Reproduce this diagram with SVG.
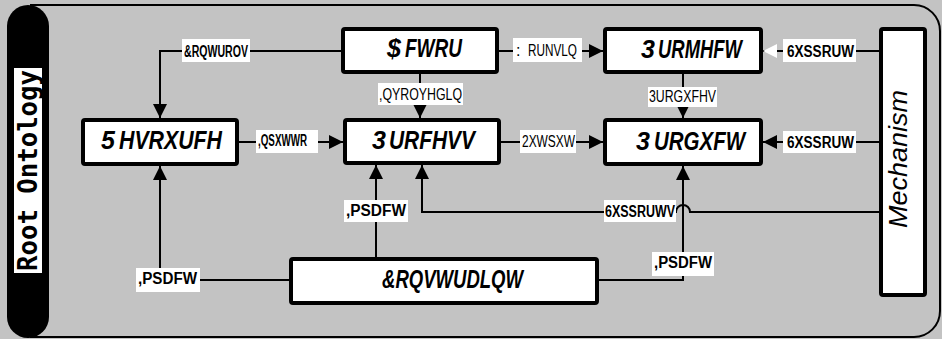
<svg xmlns="http://www.w3.org/2000/svg" width="942" height="339" viewBox="0 0 942 339">
<style>
.box{fill:#fff;stroke:#000;stroke-width:4}
.ln{fill:none;stroke:#000;stroke-width:2}
.lbg{fill:#fff}
.bt{font-family:"Liberation Sans",Arial,sans-serif;font-weight:bold;font-style:italic;font-size:25px;fill:#000}
.lb{font-family:"Liberation Sans",Arial,sans-serif;font-weight:bold;font-size:16px;fill:#000}
.ln2{font-family:"Liberation Sans",Arial,sans-serif;font-weight:normal;font-size:16px;fill:#000}
</style>
<defs>
<marker id="ah" viewBox="0 0 14 14" refX="14" refY="7" markerWidth="14" markerHeight="14" markerUnits="userSpaceOnUse" orient="auto"><path d="M0,0 L14,7 L0,14 z" fill="#000"/></marker>
<marker id="ahw" viewBox="0 0 14 14" refX="14" refY="7" markerWidth="14" markerHeight="14" markerUnits="userSpaceOnUse" orient="auto"><path d="M0,0 L14,7 L0,14 z" fill="#fff"/></marker>
</defs>
<rect x="0" y="0" width="942" height="339" fill="#c3c3c3"/>
<path d="M30,5 H914 A26,26 0 0 1 940,31 V311 A26,26 0 0 1 914,337 H30" fill="none" stroke="#000" stroke-width="2"/>
<g id="root-ontology">
<rect x="7" y="5" width="42" height="333" rx="21" fill="#000"/>
<rect x="14" y="68" width="28" height="205" fill="#fff"/>
<text x="37" y="271" transform="rotate(-90 37 271)" font-family="'DejaVu Sans Mono',monospace" font-weight="bold" font-size="26" textLength="201" lengthAdjust="spacingAndGlyphs">Root Ontology</text>
</g>
<g id="connectors">
<path class="ln" d="M341,51 H160 V118" marker-end="url(#ah)"/>
<path class="ln" d="M499,51 H603" marker-end="url(#ah)"/>
<path class="ln" d="M420,74 V118" marker-end="url(#ah)"/>
<path class="ln" d="M239,142 H343" marker-end="url(#ah)"/>
<path class="ln" d="M501,142 H603" marker-end="url(#ah)"/>
<path class="ln" d="M683,74 V118" marker-end="url(#ah)"/>
<path class="ln" d="M879,51 H763" marker-end="url(#ahw)"/>
<path class="ln" d="M879,142 H763" marker-end="url(#ah)"/>
<path class="ln" d="M879,212 H690 A7,7 0 0 0 676,212 H422 V165" marker-end="url(#ah)"/>
<path class="ln" d="M289,280 H160 V166" marker-end="url(#ah)"/>
<path class="ln" d="M376,257 V165" marker-end="url(#ah)"/>
<path class="ln" d="M599,280 H683 V166" marker-end="url(#ah)"/>
<rect class="lbg" x="182" y="39" width="68" height="23"/>
<text class="lb" x="184" y="57" textLength="64" lengthAdjust="spacingAndGlyphs">&amp;RQWUROV</text>
<rect class="lbg" x="513" y="38" width="69" height="24"/>
<text class="ln2" y="56"><tspan x="516">:</tspan><tspan x="528" textLength="49" lengthAdjust="spacingAndGlyphs">RUNVLQ</tspan></text>
<rect class="lbg" x="378" y="83" width="85" height="22"/>
<text class="ln2" x="379" y="100" textLength="83" lengthAdjust="spacingAndGlyphs">,QYROYHGLQ</text>
<rect class="lbg" x="256" y="130" width="62" height="23"/>
<text class="lb" x="258" y="146" textLength="49" lengthAdjust="spacingAndGlyphs">,QSXWWR</text>
<rect class="lbg" x="520" y="130" width="56" height="23"/>
<text class="ln2" x="522" y="147" textLength="53" lengthAdjust="spacingAndGlyphs">2XWSXW</text>
<rect class="lbg" x="648" y="87" width="69" height="20"/>
<text class="ln2" x="649" y="102" textLength="67" lengthAdjust="spacingAndGlyphs">3URGXFHV</text>
<rect class="lbg" x="783" y="39" width="73" height="23"/>
<text class="lb" x="787" y="57" textLength="67" lengthAdjust="spacingAndGlyphs">6XSSRUW</text>
<rect class="lbg" x="783" y="131" width="73" height="22"/>
<text class="lb" x="787" y="148" textLength="67" lengthAdjust="spacingAndGlyphs">6XSSRUW</text>
<rect class="lbg" x="604" y="200" width="72" height="22"/>
<text class="lb" x="605" y="217" textLength="70" lengthAdjust="spacingAndGlyphs">6XSSRUWV</text>
<rect class="lbg" x="136" y="268" width="64" height="24"/>
<text class="lb" x="138" y="284" textLength="59" lengthAdjust="spacingAndGlyphs">,PSDFW</text>
<rect class="lbg" x="344" y="200" width="64" height="22"/>
<text class="lb" x="346" y="216" textLength="60" lengthAdjust="spacingAndGlyphs">,PSDFW</text>
<rect class="lbg" x="652" y="252" width="62" height="24"/>
<text class="lb" x="654" y="268" textLength="58" lengthAdjust="spacingAndGlyphs">,PSDFW</text>
</g>
<g id="actor">
<rect class="box" x="343" y="29" width="154" height="43" rx="2"/>
<text class="bt" y="57"><tspan x="387">$</tspan><tspan x="405" textLength="57" lengthAdjust="spacingAndGlyphs">FWRU</tspan></text>
</g>
<g id="process">
<rect class="box" x="345" y="120" width="154" height="43" rx="2"/>
<text class="bt" y="149"><tspan x="372">3</tspan><tspan x="389" textLength="86" lengthAdjust="spacingAndGlyphs">URFHVV</tspan></text>
</g>
<g id="project">
<rect class="box" x="605" y="29" width="156" height="43" rx="2"/>
<text class="bt" y="58"><tspan x="641">3</tspan><tspan x="658" textLength="84" lengthAdjust="spacingAndGlyphs">URMHFW</tspan></text>
</g>
<g id="product">
<rect class="box" x="605" y="120" width="156" height="44" rx="2"/>
<text class="bt" y="150"><tspan x="636">3</tspan><tspan x="654" textLength="91" lengthAdjust="spacingAndGlyphs">URGXFW</tspan></text>
</g>
<g id="resource">
<rect class="box" x="83" y="120" width="154" height="44" rx="2"/>
<text class="bt" y="149"><tspan x="101">5</tspan><tspan x="119" textLength="103" lengthAdjust="spacingAndGlyphs">HVRXUFH</tspan></text>
</g>
<g id="constraint">
<rect class="box" x="291" y="259" width="306" height="44" rx="2"/>
<text class="bt" x="382" y="288" textLength="141" lengthAdjust="spacingAndGlyphs">&amp;RQVWUDLQW</text>
</g>
<g id="mechanism">
<rect class="box" x="881" y="29" width="44" height="266" rx="2"/>
<text x="907" y="228" transform="rotate(-90 907 228)" font-family="'Liberation Sans',Arial,sans-serif" font-style="italic" font-size="26" textLength="138" lengthAdjust="spacingAndGlyphs">Mechanism</text>
</g>
</svg>
